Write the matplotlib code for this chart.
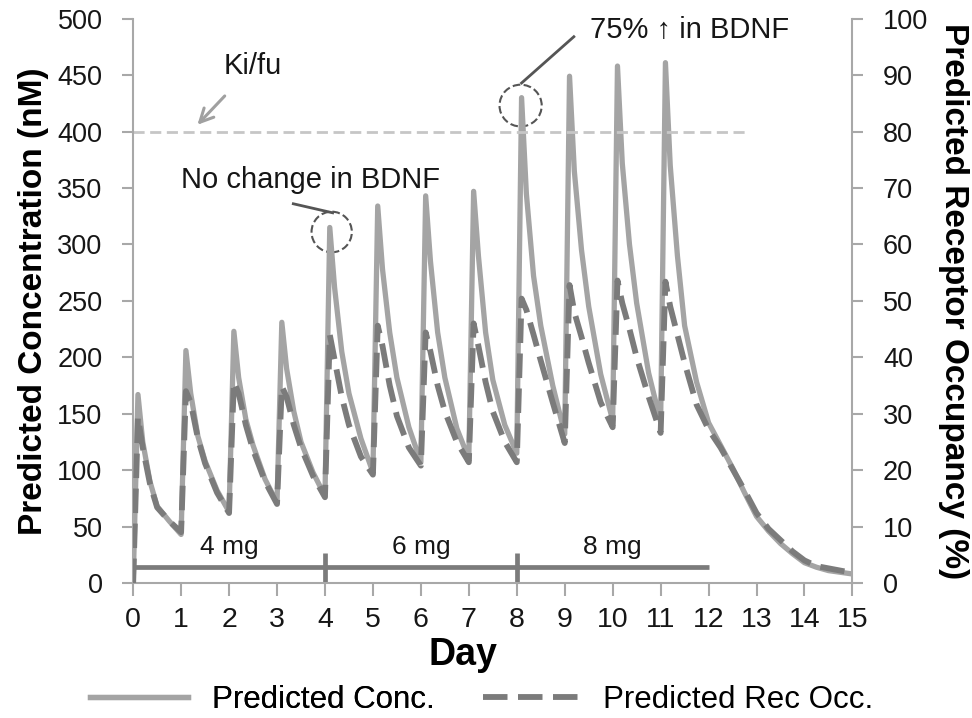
import numpy as np
import matplotlib
matplotlib.use("Agg")
import matplotlib.pyplot as plt
from matplotlib.patches import Ellipse

plt.rcParams['font.family'] = ['Liberation Sans', 'DejaVu Sans']

# dosing days and sampling offsets within each day (days after dose)
dose_days = np.arange(12)
offsets = [0.0, 0.1, 0.2, 0.35, 0.5, 0.75]

# predicted concentration (nM), one row per dosing day, at the offsets above
conc_by_day = [
    [0, 167, 125, 90, 68, 55],
    [43, 206, 168, 130, 108, 82],
    [63, 223, 182, 145, 122, 92],
    [71, 231, 190, 152, 125, 98],
    [77, 315, 262, 205, 168, 128],
    [98, 334, 278, 222, 182, 138],
    [107, 343, 285, 222, 182, 137],
    [110, 347, 290, 222, 180, 140],
    [115, 430, 345, 272, 228, 175],
    [132, 449, 365, 295, 245, 185],
    [144, 458, 372, 300, 248, 186],
    [143, 461, 370, 290, 228, 178],
]
# predicted receptor occupancy (%), same layout
occ_by_day = [
    [0, 29.4, 24.0, 17.6, 13.4, 11.0],
    [9.0, 34.0, 32.0, 25.6, 21.2, 16.0],
    [12.4, 35.6, 33.6, 28.0, 23.6, 18.0],
    [14.0, 34.8, 33.0, 28.0, 24.0, 19.0],
    [15.2, 44.0, 39.6, 33.0, 28.0, 22.4],
    [19.2, 45.6, 42.0, 35.0, 29.6, 24.0],
    [20.8, 44.4, 41.0, 35.0, 30.4, 25.0],
    [21.4, 46.0, 42.0, 35.6, 30.4, 25.0],
    [21.4, 50.4, 48.4, 44.0, 39.4, 32.0],
    [24.8, 52.8, 48.0, 43.6, 39.0, 32.0],
    [27.6, 53.6, 49.6, 45.0, 40.0, 33.0],
    [26.6, 53.4, 49.0, 44.0, 39.0, 31.6],
]

# washout after last dose
tail_t = [12.0, 12.25, 12.5, 12.75, 13.0, 13.25, 13.5, 13.75, 14.0, 14.25, 14.5, 14.75, 15.0]
tail_conc = [142, 122, 102, 80, 59, 46, 35, 26, 18, 14, 11, 9.5, 8]
tail_occ = [27.2, 24.0, 20.2, 16.4, 12.4, 9.6, 7.6, 5.6, 4.0, 3.0, 2.6, 2.2, 1.8]

kifu = 400
dose_labels = ['4 mg', '6 mg', '8 mg']
dose_starts = [0, 4, 8]
dose_end = 12

t = np.concatenate([np.add.outer(dose_days, offsets).ravel(), tail_t])
conc = np.concatenate([np.ravel(conc_by_day), tail_conc])
occ = np.concatenate([np.ravel(occ_by_day), tail_occ])

c_conc = '#a4a4a4'
c_occ = '#7b7b7b'
c_axis = '#a8a8a8'
c_txt = '#161616'

fig = plt.figure(figsize=(9.72, 7.18), dpi=100)
ax = fig.add_axes([0.137, 0.188, 0.740, 0.786])
ax2 = ax.twinx()

l1, = ax.plot(t, conc, color=c_conc, lw=3.8, solid_joinstyle='round',
              label='Predicted Conc.')
l2, = ax2.plot(t, occ, color=c_occ, lw=4.2, dashes=(4.2, 1.8),
               label='Predicted Rec Occ.')

# Ki/fu line
ax.plot([0, 12.8], [kifu, kifu], color='#c6c6c6', lw=2, dashes=(4, 2))
ax.annotate('Ki/fu', xy=(1.34, 406), xytext=(2.5, 458), fontsize=21,
            ha='center', va='center', color=c_txt,
            arrowprops=dict(arrowstyle='->', color='#a0a0a0', lw=2.2,
                            shrinkA=13, shrinkB=0, mutation_scale=24))

# dose bars
ax.plot([0, dose_end], [14, 14], color=c_occ, lw=3.4, solid_capstyle='butt')
for s in dose_starts[1:]:
    ax.plot([s, s], [0, 27], color=c_occ, lw=3.4, solid_capstyle='butt')
for s, e, lab in zip(dose_starts, dose_starts[1:] + [dose_end], dose_labels):
    ax.text((s + e) / 2, 21, lab, ha='center', va='bottom', fontsize=19,
            color=c_txt)

# BDNF annotations
ax.text(3.7, 357, 'No change in BDNF', ha='center', va='center', fontsize=21,
        color=c_txt)
ax.plot([3.34, 4.16], [336, 328], color='#555555', lw=2)
ax.add_patch(Ellipse((4.14, 311), 0.84, 36, fill=False, ls='--',
                     ec='#555555', lw=1.5))
ax.text(11.6, 490, '75% \u2191 in BDNF', ha='center', va='center',
        fontsize=21, color=c_txt)
ax.plot([9.19, 8.1], [484, 443], color='#555555', lw=2)
ax.add_patch(Ellipse((8.08, 423), 0.88, 37, fill=False, ls='--',
                     ec='#555555', lw=1.5))

ax.set_xlim(0, 15)
ax.set_ylim(0, 500)
ax2.set_ylim(0, 100)
ax.set_xticks(range(16))
ax.set_yticks(range(0, 501, 50))
ax2.set_yticks(range(0, 101, 10))

for a in (ax, ax2):
    a.spines['top'].set_visible(False)
    for sp in ('left', 'right', 'bottom'):
        a.spines[sp].set_color(c_axis)
        a.spines[sp].set_linewidth(1.5)
ax.spines['right'].set_visible(False)
ax2.spines['left'].set_visible(False)
ax2.spines['bottom'].set_visible(False)

ax.tick_params(axis='x', direction='out', length=9, width=1.5, color=c_axis,
               labelsize=20.5, pad=8, labelcolor=c_txt)
ax.tick_params(axis='y', direction='out', length=8, width=1.5, color=c_axis,
               labelsize=19.5, pad=14, labelcolor=c_txt)
ax2.tick_params(axis='y', direction='out', length=8, width=1.5, color=c_axis,
                labelsize=19.5, pad=14, labelcolor=c_txt)

ax.set_xlabel('Day', fontsize=27, fontweight='bold')
ax.xaxis.set_label_coords(0.458, -0.095)
ax.set_ylabel('Predicted Concentration (nM)', fontsize=24, fontweight='bold',
              labelpad=6)
ax2.set_ylabel('Predicted Receptor Occupancy (%)', fontsize=24,
               fontweight='bold', rotation=270, labelpad=29)

# legend: two entries placed separately (different handle lengths)
leg_kw = dict(frameon=False, fontsize=22.5, handletextpad=0.75,
              borderpad=0, borderaxespad=0, loc='lower left')
leg1 = fig.legend(handles=[l1], bbox_to_anchor=(0.0926, 0.004),
                  handlelength=3.15, **leg_kw)
fig.add_artist(leg1)
fig.legend(handles=[l2], bbox_to_anchor=(0.497, 0.004),
           handlelength=3.1, **leg_kw)

fig.savefig('out.png', dpi=100)
